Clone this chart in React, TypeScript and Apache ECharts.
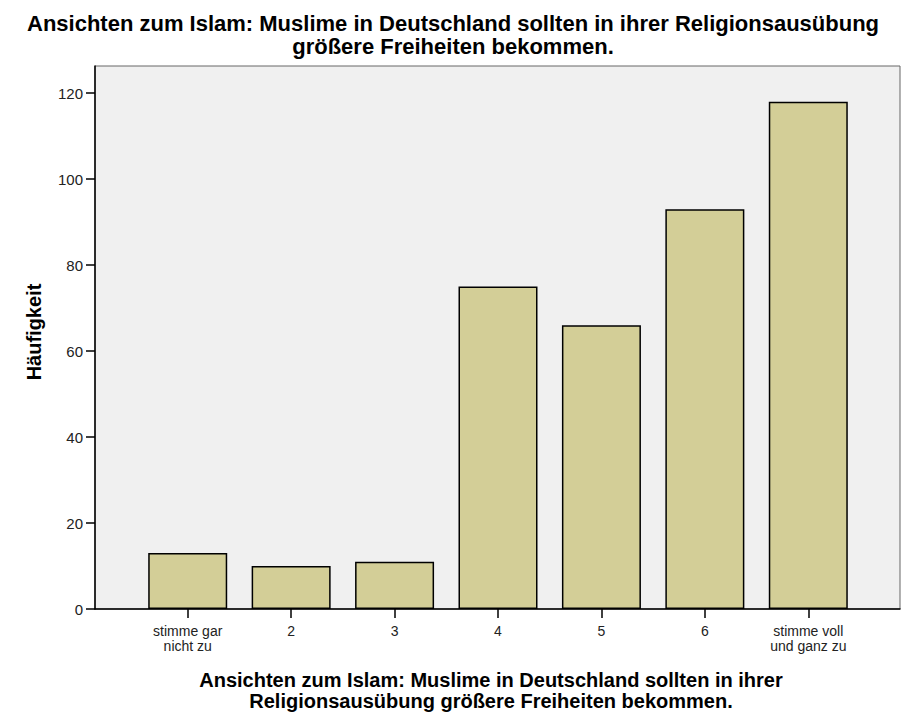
import React, { useEffect, useRef } from "react";
import * as echarts from "echarts";

const categories = ["stimme gar\nnicht zu", "2", "3", "4", "5", "6", "stimme voll\nund ganz zu"];
const counts = [13, 10, 11, 75, 66, 93, 118];
const yTicks = [0, 20, 40, 60, 80, 100, 120];
const titleText = "Ansichten zum Islam: Muslime in Deutschland sollten in ihrer Religionsausübung\ngrößere Freiheiten bekommen.";
const xAxisTitle = "Ansichten zum Islam: Muslime in Deutschland sollten in ihrer\nReligionsausübung größere Freiheiten bekommen.";
const yAxisTitle = "Häufigkeit";

const FONT = "'Liberation Sans', Arial, sans-serif";

export default function App() {
  const ref = useRef<HTMLDivElement>(null);
  useEffect(() => {
    if (!ref.current) return;
    const chart = echarts.init(ref.current, undefined, { renderer: "svg" });
    const yMax = 126.3;
    chart.setOption({
      animation: false,
      backgroundColor: "#ffffff",
      textStyle: { fontFamily: FONT },
      graphic: [
        {
          type: "text",
          x: 453,
          y: 35,
          style: {
            text: titleText,
            font: `bold 22px ${FONT}`,
            lineHeight: 23,
            fill: "#000",
            align: "center",
            verticalAlign: "middle",
          },
        },
        {
          type: "text",
          x: 34,
          y: 332,
          rotation: Math.PI / 2,
          style: {
            text: yAxisTitle,
            font: `bold 20px ${FONT}`,
            fill: "#000",
            align: "center",
            verticalAlign: "middle",
          },
        },
        {
          type: "text",
          x: 491,
          y: 690,
          style: {
            text: xAxisTitle,
            font: `bold 20px ${FONT}`,
            lineHeight: 21,
            fill: "#000",
            align: "center",
            verticalAlign: "middle",
          },
        },
      ],
      grid: [
        {
          left: 95,
          top: 66,
          width: 805,
          height: 543,
          show: true,
          backgroundColor: "#f0f0f0",
          borderColor: "#666",
          borderWidth: 1,
        },
        {
          left: 136,
          top: 66,
          width: 724,
          height: 543,
        },
      ],
      xAxis: [
        {
          type: "value",
          gridIndex: 0,
          min: 0,
          max: 1,
          axisLine: { show: true, lineStyle: { color: "#000", width: 1.5 } },
          axisTick: { show: false },
          axisLabel: { show: false },
          splitLine: { show: false },
        },
        {
          type: "category",
          gridIndex: 1,
          data: categories,
          axisLine: { show: false },
          axisTick: { show: true, alignWithLabel: true, length: 9, lineStyle: { color: "#000", width: 1.5 } },
          axisLabel: {
            interval: 0,
            margin: 14,
            fontSize: 14,
            lineHeight: 15,
            color: "#222",
            fontFamily: FONT,
          },
          splitLine: { show: false },
        },
      ],
      yAxis: [
        {
          type: "value",
          gridIndex: 0,
          min: 0,
          max: yMax,
          interval: 20,
          axisLine: { show: true, lineStyle: { color: "#000", width: 1.5 } },
          axisTick: { show: true, length: 9, customValues: yTicks, lineStyle: { color: "#000", width: 1.5 } },
          axisLabel: {
            fontSize: 15,
            color: "#222",
            margin: 12,
            fontFamily: FONT,
            customValues: yTicks,
          },
          splitLine: { show: false },
        },
        {
          type: "value",
          gridIndex: 1,
          min: 0,
          max: yMax,
          show: false,
          splitLine: { show: false },
        },
      ],
      series: [
        {
          type: "bar",
          xAxisIndex: 1,
          yAxisIndex: 1,
          data: counts,
          barWidth: 79,
          itemStyle: { color: "#d3ce97", borderColor: "#000", borderWidth: 1.5 },
        },
      ],
    });
    return () => chart.dispose();
  }, []);
  return <div ref={ref} style={{ width: 906, height: 713, position: "absolute", left: 0, top: 0 }} />;
}
